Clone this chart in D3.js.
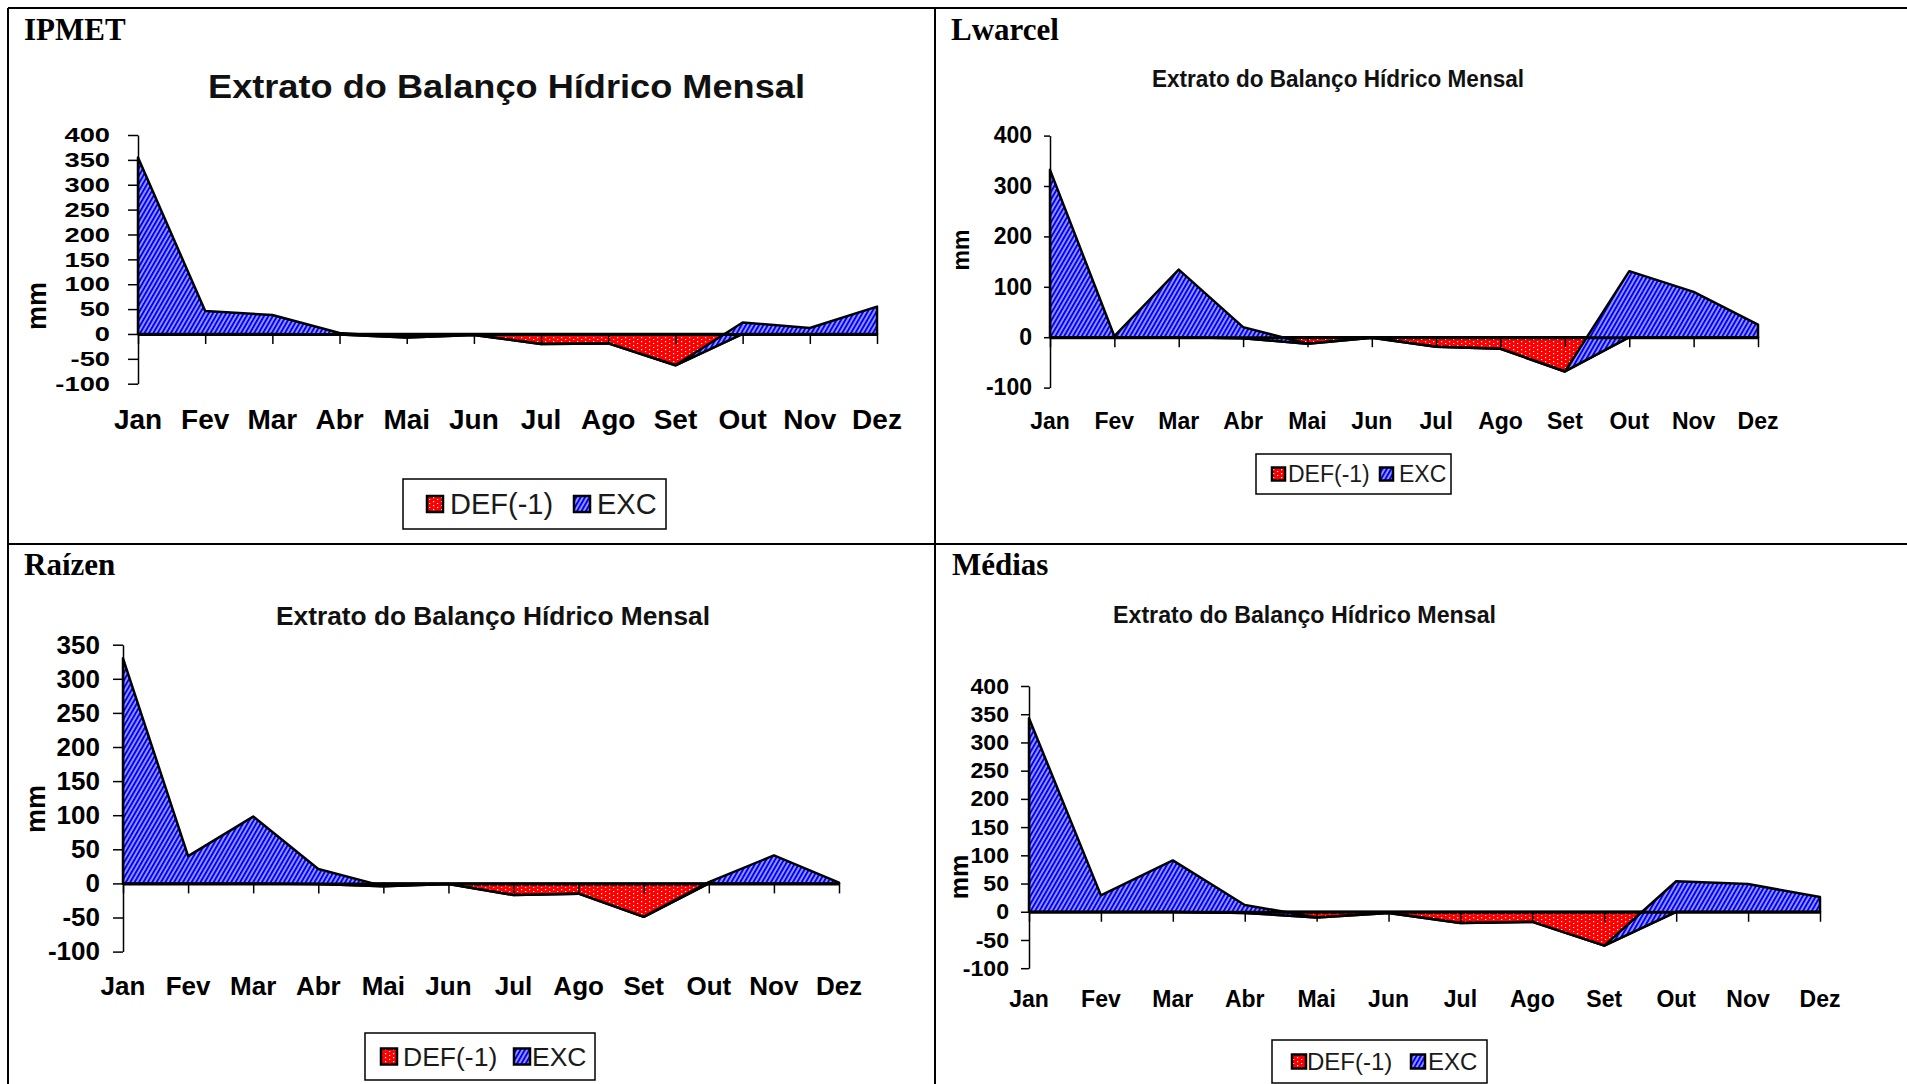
<!DOCTYPE html>
<html>
<head>
<meta charset="utf-8">
<script src="https://cdn.jsdelivr.net/npm/d3@7"></script>
<style>
  html, body { margin: 0; padding: 0; background: #fff; }
  svg { display: block; }
</style>
</head>
<body>
<script>
// month categories
const months = ["Jan", "Fev", "Mar", "Abr", "Mai", "Jun", "Jul", "Ago", "Set", "Out", "Nov", "Dez"];

// DEF(-1) and EXC series (mm)
const ipmetDef = [0, 0, 0, -1, -7, -2, -20, -19, -63, 0, 0, 0];
const ipmetExc = [355, 46, 38, 3, 0, 0, 0, 0, 0, 23, 12, 55];
const lwarcelDef = [0, 0, 0, -2, -13, -1, -19, -23, -68, 0, 0, 0];
const lwarcelExc = [332, 2, 134, 22, 0, 0, 0, 0, 0, 131, 90, 25];
const raizenDef = [0, 0, 0, -1, -4, -1, -17, -15, -49, 0, 0, 0];
const raizenExc = [330, 40, 98, 22, 0, 0, 0, 0, 0, 2, 41, 1];
const mediasDef = [0, 0, 0, -2, -10, -2, -20, -18, -60, 0, 0, 0];
const mediasExc = [343, 29, 91, 14, 0, 0, 0, 0, 0, 54, 49, 26];

// y tick labels
const ipmetTicks = [-100, -50, 0, 50, 100, 150, 200, 250, 300, 350, 400];
const lwarcelTicks = [-100, 0, 100, 200, 300, 400];
const raizenTicks = [-100, -50, 0, 50, 100, 150, 200, 250, 300, 350];
const mediasTicks = [-100, -50, 0, 50, 100, 150, 200, 250, 300, 350, 400];

const panelNames = ["IPMET", "Lwarcel", "Raízen", "Médias"];
const chartTitle = "Extrato do Balanço Hídrico Mensal";
const legendLabels = ["DEF(-1)", "EXC"];

const sans = "'Liberation Sans', Arial, sans-serif";
const serif = "'Liberation Serif', 'Times New Roman', serif";

const svg = d3.select("body").append("svg")
    .attr("width", 1907)
    .attr("height", 1084);

// fill patterns: red with white dots, blue with white diagonal hatch
const defs = svg.append("defs");
const dots = defs.append("pattern")
    .attr("id", "dots")
    .attr("patternUnits", "userSpaceOnUse")
    .attr("width", 8).attr("height", 4);
dots.append("rect").attr("width", 8).attr("height", 4).attr("fill", "#ff0000");
dots.append("rect").attr("x", 1).attr("y", 1).attr("width", 1.2).attr("height", 1.2).attr("fill", "#fff");
dots.append("rect").attr("x", 5).attr("y", 3).attr("width", 1.2).attr("height", 1.2).attr("fill", "#fff");

const hatch = defs.append("pattern")
    .attr("id", "hatch")
    .attr("patternUnits", "userSpaceOnUse")
    .attr("width", 3.8).attr("height", 10)
    .attr("patternTransform", "rotate(30)");
hatch.append("rect").attr("width", 3.8).attr("height", 10).attr("fill", "#0000ff");
hatch.append("line").attr("x1", 1).attr("y1", 0).attr("x2", 1).attr("y2", 10)
    .attr("stroke", "#fff").attr("stroke-width", 1.1);

// page frame
const frame = svg.append("g").attr("stroke", "#000").attr("stroke-width", 2);
frame.append("line").attr("x1", 8).attr("y1", 8).attr("x2", 1907).attr("y2", 8);
frame.append("line").attr("x1", 8).attr("y1", 8).attr("x2", 8).attr("y2", 1084);
frame.append("line").attr("x1", 935).attr("y1", 8).attr("x2", 935).attr("y2", 1084);
frame.append("line").attr("x1", 8).attr("y1", 544).attr("x2", 1907).attr("y2", 544);

const panels = [
  { name: panelNames[0], def: ipmetDef, exc: ipmetExc, ticks: ipmetTicks,
    nameX: 24, nameY: 40,
    titleX: 208, titleY: 98, titleFs: 34, titleW: 597,
    x0: 138, x1: 877, yTop: 135, yBottom: 383.7,
    tick: 10, pad: 18, yFs: 21, yStretch: 1.3, labelY: 429, xFs: 28,
    mmX: 37, mmY: 306, mmFs: 27,
    legend: { x: 403, y: 479, w: 263, h: 50, m1: 427, t1: 450, m2: 574, t2: 597, ms: 16, fs: 29 } },
  { name: panelNames[1], def: lwarcelDef, exc: lwarcelExc, ticks: lwarcelTicks,
    nameX: 951, nameY: 40,
    titleX: 1152, titleY: 87, titleFs: 23, titleW: 372,
    x0: 1050, x1: 1758, yTop: 135.6, yBottom: 387.6,
    tick: 6, pad: 12, yFs: 23, yStretch: 1, labelY: 429, xFs: 23,
    mmX: 961, mmY: 250, mmFs: 23,
    legend: { x: 1256, y: 454, w: 195, h: 40, m1: 1272, t1: 1288, m2: 1380, t2: 1399, ms: 13, fs: 23 } },
  { name: panelNames[2], def: raizenDef, exc: raizenExc, ticks: raizenTicks,
    nameX: 24, nameY: 575,
    titleX: 276, titleY: 625, titleFs: 26, titleW: 434,
    x0: 123, x1: 839, yTop: 644.7, yBottom: 951.6,
    tick: 10, pad: 13, yFs: 26, yStretch: 1, labelY: 995, xFs: 26,
    mmX: 36, mmY: 809, mmFs: 27,
    legend: { x: 365, y: 1033, w: 230, h: 47, m1: 381, t1: 403, m2: 514, t2: 532, ms: 16, fs: 26.5 } },
  { name: panelNames[3], def: mediasDef, exc: mediasExc, ticks: mediasTicks,
    nameX: 952, nameY: 575,
    titleX: 1113, titleY: 623, titleFs: 23, titleW: 383,
    x0: 1029, x1: 1820, yTop: 686, yBottom: 968.2,
    tick: 8, pad: 12, yFs: 22, yStretch: 1.05, labelY: 1007, xFs: 23,
    mmX: 959, mmY: 877, mmFs: 25,
    legend: { x: 1272, y: 1040, w: 215, h: 43, m1: 1292, t1: 1307, m2: 1411, t2: 1428, ms: 14, fs: 24 } }
];

function drawPanel(p) {
  const g = svg.append("g");

  const x = d3.scalePoint().domain(months).range([p.x0, p.x1]);
  const y = d3.scaleLinear()
      .domain([p.ticks[0], p.ticks[p.ticks.length - 1]])
      .range([p.yBottom, p.yTop]);

  // stacked areas, like the spreadsheet: EXC sits on top of DEF
  const rows = months.map((m, i) => ({ month: m, DEF: p.def[i], EXC: p.exc[i] }));
  const series = d3.stack().keys(["DEF", "EXC"])(rows);
  const area = d3.area()
      .x(d => x(d.data.month))
      .y0(d => y(d[0]))
      .y1(d => y(d[1]));

  g.selectAll("path.area")
    .data(series)
    .join("path")
      .attr("class", "area")
      .attr("d", area)
      .attr("fill", (d, i) => i === 0 ? "url(#dots)" : "url(#hatch)")
      .attr("stroke", "#000")
      .attr("stroke-width", 2.5)
      .attr("stroke-linejoin", "round");

  // y axis (plain hyphen for negatives, as in the original)
  const yAxis = g.append("g")
      .attr("transform", `translate(${p.x0},0)`)
      .call(d3.axisLeft(y).tickValues(p.ticks).tickFormat(d => String(d))
        .tickSize(p.tick).tickSizeOuter(0).tickPadding(p.pad));
  yAxis.attr("font-family", sans).attr("font-size", p.yFs).attr("font-weight", "bold");
  yAxis.select(".domain").attr("stroke-width", 1.5);
  yAxis.selectAll(".tick line").attr("stroke-width", 1.5);
  yAxis.selectAll("text").attr("fill", "#000");
  if (p.yStretch !== 1) {
    // the original labels are squat and wide
    yAxis.selectAll("text").each(function () {
      const w = this.getComputedTextLength();
      d3.select(this)
        .attr("textLength", w * p.yStretch)
        .attr("lengthAdjust", "spacingAndGlyphs");
    });
  }

  // category axis along zero, ticks only
  const xAxis = g.append("g")
      .attr("transform", `translate(0,${y(0)})`)
      .call(d3.axisBottom(x).tickSize(10).tickSizeOuter(0).tickFormat(""));
  xAxis.select(".domain").attr("stroke-width", 3);
  xAxis.selectAll(".tick line").attr("stroke-width", 1.5);

  // month labels at the bottom of the plot
  g.selectAll("text.month")
    .data(months)
    .join("text")
      .attr("class", "month")
      .attr("x", d => x(d))
      .attr("y", p.labelY)
      .attr("text-anchor", "middle")
      .attr("font-family", sans)
      .attr("font-weight", "bold")
      .attr("font-size", p.xFs)
      .text(d => d);

  // axis title
  g.append("text")
    .attr("transform", `translate(${p.mmX},${p.mmY}) rotate(-90)`)
    .attr("text-anchor", "middle")
    .attr("dominant-baseline", "central")
    .attr("font-family", sans)
    .attr("font-weight", "bold")
    .attr("font-size", p.mmFs)
    .text("mm");

  // chart title
  g.append("text")
    .attr("x", p.titleX)
    .attr("y", p.titleY)
    .attr("textLength", p.titleW)
    .attr("lengthAdjust", "spacingAndGlyphs")
    .attr("font-family", sans)
    .attr("font-weight", "bold")
    .attr("font-size", p.titleFs)
    .attr("fill", "#111")
    .text(chartTitle);

  // panel name
  g.append("text")
    .attr("x", p.nameX)
    .attr("y", p.nameY)
    .attr("font-family", serif)
    .attr("font-weight", "bold")
    .attr("font-size", 31)
    .text(p.name);

  // legend
  const L = p.legend;
  const lg = g.append("g");
  lg.append("rect")
    .attr("x", L.x).attr("y", L.y).attr("width", L.w).attr("height", L.h)
    .attr("fill", "#fff").attr("stroke", "#000").attr("stroke-width", 1.5);
  const cy = L.y + L.h / 2;
  [[L.m1, L.t1, "url(#dots)"], [L.m2, L.t2, "url(#hatch)"]].forEach(([mx, tx, fill], i) => {
    lg.append("rect")
      .attr("x", mx).attr("y", cy - L.ms / 2)
      .attr("width", L.ms).attr("height", L.ms)
      .attr("fill", fill).attr("stroke", "#000").attr("stroke-width", 2.5);
    lg.append("text")
      .attr("x", tx).attr("y", cy + L.fs * 0.36)
      .attr("font-family", sans)
      .attr("font-size", L.fs)
      .attr("fill", "#1a1a1a")
      .text(legendLabels[i]);
  });
}

panels.forEach(drawPanel);
</script>
</body>
</html>
